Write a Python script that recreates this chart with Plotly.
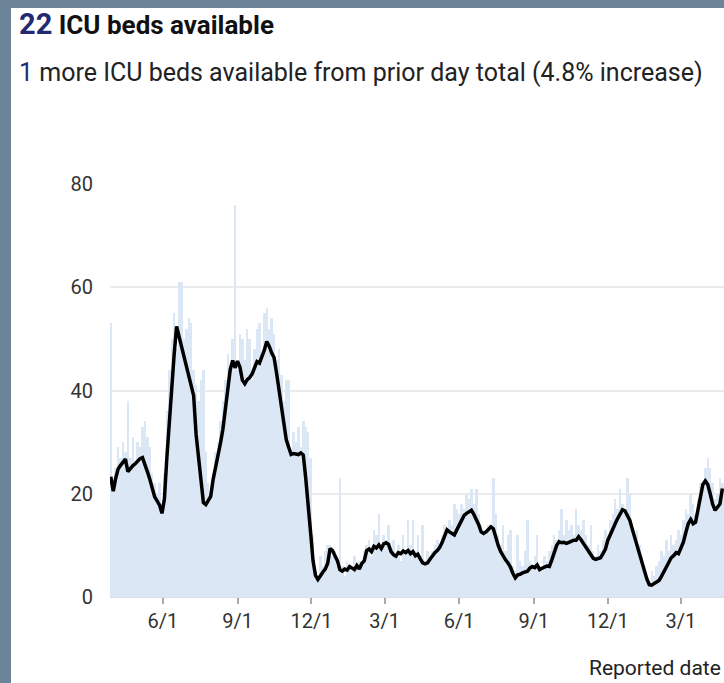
import pandas as pd
import plotly.graph_objs as go

# every third reported day, starting 2020-03-29
start_date = "2020-03-29"

# ICU beds available (bars)
beds_available = [
    53, 22, 25, 29, 27, 30, 28, 38, 27, 31, 26, 30, 29, 33, 34, 31, 29, 24, 22, 20,
    22, 16, 24, 36, 44, 50, 55, 48, 61, 61, 50, 52, 54, 53, 44, 41, 38, 42, 44, 28,
    22, 20, 24, 28, 30, 34, 38, 42, 47, 45, 50, 76, 44, 51, 50, 46, 52, 50, 42, 48,
    52, 53, 46, 55, 56, 52, 54, 51, 46, 48, 43, 38, 42, 42, 28, 32, 30, 33, 29, 34,
    33, 32, 27, 12, 5, 4, 8, 6, 9, 10, 10, 8, 9, 6, 23, 6, 4, 7, 6, 5,
    8, 6, 7, 6, 9, 10, 11, 8, 13, 12, 16, 9, 12, 11, 14, 9, 11, 8, 10, 7,
    12, 9, 15, 10, 15, 9, 12, 8, 14, 7, 9, 8, 9, 10, 11, 10, 12, 14, 13, 15,
    14, 18, 17, 16, 18, 17, 20, 19, 21, 18, 21, 16, 14, 13, 12, 14, 13, 23, 16, 12,
    10, 14, 9, 12, 13, 6, 5, 12, 7, 6, 9, 15, 7, 6, 8, 12, 6, 5, 8, 7,
    9, 10, 12, 11, 13, 17, 12, 15, 13, 14, 12, 17, 14, 13, 15, 12, 10, 14, 9, 8,
    10, 9, 11, 13, 12, 15, 16, 19, 17, 21, 18, 16, 23, 20, 14, 12, 13, 10, 8, 5,
    4, 3, 5, 4, 6, 7, 9, 8, 11, 9, 12, 10, 11, 13, 12, 15, 17, 16, 20, 18,
    16, 19, 22, 21, 25, 27, 25, 22, 19, 20, 23, 22,
]

# 7-day average (line)
avg_7day = [
    23.3, 20.5, 23.0, 24.8, 25.5, 26.0, 26.7, 24.3, 25.0, 25.4, 25.8, 26.3, 26.8, 27.0, 25.8, 24.3, 22.8, 21.0, 19.4, 18.6,
    17.8, 16.2, 19.0, 27.0, 34.0, 41.0, 47.0, 52.4, 50.5, 48.5, 47.0, 44.5, 42.5, 40.8, 39.0, 31.5, 26.5, 22.0, 18.3, 17.9,
    18.8, 19.5, 22.8, 25.0, 27.5, 29.8, 32.5, 36.2, 39.8, 44.0, 45.8, 44.4, 45.7, 44.5, 42.0, 41.3, 42.1, 42.5, 43.2, 44.6,
    45.6, 45.3, 46.4, 47.8, 49.5, 48.6, 47.3, 46.4, 43.5, 40.2, 36.5, 33.0, 30.5, 29.0, 27.6, 27.8, 27.7, 27.6, 27.9, 27.5,
    23.0, 18.5, 12.5, 7.0, 4.2, 3.4, 4.2, 4.8, 5.4, 6.5, 9.4, 9.0, 8.0, 7.0, 5.3, 5.0, 5.4, 5.2, 5.9, 5.6,
    5.3, 6.1, 5.4, 6.5, 7.0, 9.0, 9.3, 8.8, 9.8, 9.5, 10.1, 9.4, 10.3, 10.5, 10.2, 8.8, 8.2, 7.9, 8.6, 8.4,
    8.9, 8.6, 9.0, 8.4, 8.8, 8.0, 8.3, 7.4, 6.6, 6.4, 6.6, 7.3, 8.0, 8.6, 9.0, 9.6, 10.6, 12.0, 13.0, 12.6,
    12.2, 12.0, 13.0, 14.0, 15.0, 15.8, 16.2, 16.5, 16.8, 16.0, 15.0, 14.0, 12.6, 12.3, 12.6, 13.2, 13.6, 13.2, 11.5, 10.0,
    8.8, 7.9, 7.2, 6.6, 5.8, 4.6, 3.7, 4.3, 4.4, 4.7, 4.9, 5.0, 5.6, 5.9, 5.7, 6.2, 5.3, 5.6, 5.8, 6.0,
    5.9, 7.2, 8.7, 10.0, 10.7, 10.5, 10.6, 10.4, 10.6, 10.8, 11.0, 11.0, 11.7, 11.1, 10.4, 9.6, 8.7, 8.0, 7.5, 7.3,
    7.4, 7.6, 8.4, 9.3, 11.0, 12.2, 13.4, 14.2, 15.2, 16.0, 16.9, 16.7, 15.8, 14.9, 13.2, 11.5, 9.8, 8.5, 6.6, 5.0,
    3.5, 2.4, 2.3, 2.6, 2.9, 3.2, 4.0, 5.0, 5.9, 6.8, 7.6, 8.0, 8.6, 8.4, 9.4, 10.6, 12.5, 14.2, 15.0, 14.2,
    14.5, 17.0, 19.5, 21.8, 22.5, 21.8, 20.0, 18.0, 16.8, 17.5, 18.0, 21.0,
]

tick_dates = ["2020-06-01", "2020-09-01", "2020-12-01", "2021-03-01",
              "2021-06-01", "2021-09-01", "2021-12-01", "2022-03-01"]
tick_labels = ["6/1", "9/1", "12/1", "3/1", "6/1", "9/1", "12/1", "3/1"]

dates = pd.date_range(start=start_date, periods=len(beds_available), freq="3D")

W, H = 724, 683
L, R, T, B = 110, 0, 184, 86
PW, PH = W - L - R, H - T - B


def px(x):
    return (x - L) / PW


def py(y):
    return (H - B - y) / PH


fig = go.Figure()

fig.add_trace(go.Bar(
    x=dates, y=beds_available,
    width=3 * 86400000,
    marker=dict(color="#dbe7f4", line=dict(width=0)),
    name="ICU beds available",
))

fig.add_trace(go.Scatter(
    x=dates, y=avg_7day, mode="lines",
    line=dict(color="black", width=3.5),
    name="7-day average",
))

# slate frame around the white card
fig.add_shape(type="rect", xref="paper", yref="paper",
              x0=px(11), x1=px(W + 5), y0=py(H + 5), y1=py(8),
              fillcolor="white", line=dict(width=0), layer="below")

fig.add_annotation(
    xref="paper", yref="paper", x=px(17), y=py(43),
    xanchor="left", yanchor="bottom", showarrow=False,
    text="<b><span style='color:#222a72;font-size:29px'>22</span> ICU beds available</b>",
    font=dict(family="Roboto", size=26, color="#111"),
)
fig.add_annotation(
    xref="paper", yref="paper", x=px(17), y=py(89),
    xanchor="left", yanchor="bottom", showarrow=False,
    text="<span style='color:#222a72'>1</span> more ICU beds available from prior day total (4.8% increase)",
    font=dict(family="Roboto", size=25, color="#222"),
)
fig.add_annotation(
    xref="paper", yref="paper", x=1, y=py(668),
    xanchor="right", yanchor="middle", showarrow=False, xshift=-1,
    text="Reported date",
    font=dict(family="Roboto", size=21, color="#222"),
)

fig.update_layout(
    width=W, height=H,
    margin=dict(l=L, r=R, t=T, b=B),
    paper_bgcolor="#6d8398",
    plot_bgcolor="white",
    showlegend=False,
    bargap=0,
    font=dict(family="Roboto", size=20, color="#333"),
    xaxis=dict(
        range=["2020-03-28", "2022-04-23"],
        tickvals=tick_dates, ticktext=tick_labels,
        ticks="outside", ticklen=6, tickwidth=2, tickcolor="#aaa",
        showgrid=False, showline=True, linecolor="#d9dee6", linewidth=1,
        tickfont=dict(size=20, color="#333"),
        zeroline=False,
    ),
    yaxis=dict(
        range=[0, 80], tickvals=[0, 20, 40, 60, 80],
        showgrid=True, gridcolor="#ebebeb", gridwidth=2,
        zeroline=False, ticks="", ticklabelstandoff=16,
        tickfont=dict(size=20, color="#333"),
    ),
)

fig.write_html("out.html", config={"displayModeBar": False},
               post_script="document.body.style.margin='0px';")
